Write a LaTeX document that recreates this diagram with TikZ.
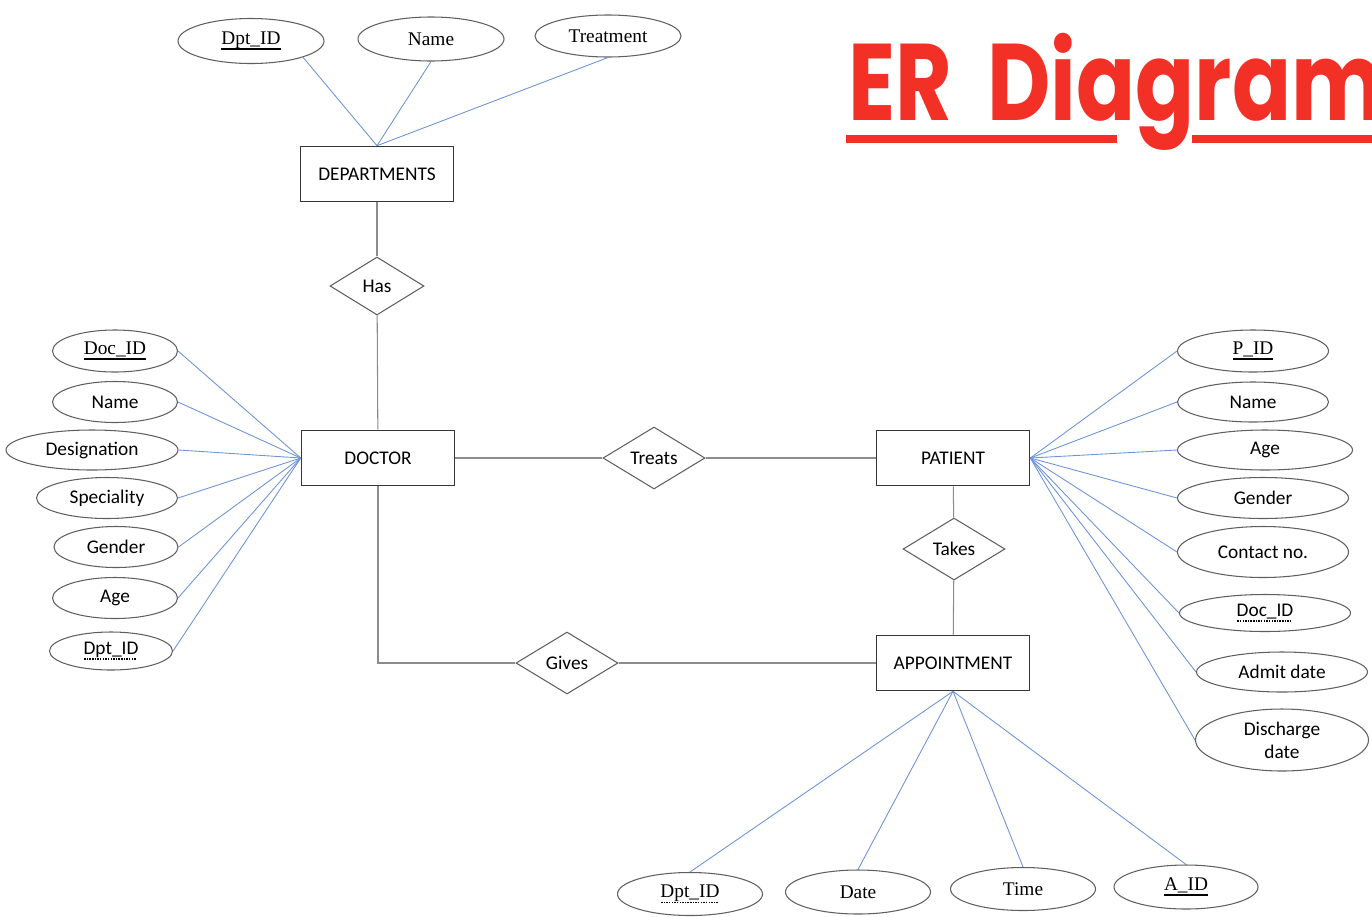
\documentclass[tikz,border=0pt]{standalone}
\usepackage{fontspec}
\setmainfont{Liberation Serif}
\setsansfont{Carlito}
\newfontfamily\titlefont{Poppins}[WordSpace=1.9]
\usepackage{tikz}
\usetikzlibrary{shapes,positioning}
\definecolor{erblue}{RGB}{110,148,215}
\definecolor{ergray}{RGB}{140,140,140}
\definecolor{erdark}{RGB}{55,55,55}
\definecolor{erred}{RGB}{242,48,38}
\tikzstyle{entity} = [draw=erdark, line width=0.9pt, minimum width=30.6mm, minimum height=11mm, font=\sffamily\fontsize{11}{13}\selectfont]
\tikzstyle{rel} = [diamond, draw=erdark!80, line width=0.6pt, aspect=1.6, minimum width=20.4mm, minimum height=12.4mm, inner sep=1pt, font=\sffamily\fontsize{11}{13}\selectfont]
\tikzstyle{attr} = [ellipse, draw=erdark!80, line width=0.6pt, minimum width=25mm, minimum height=8.2mm, inner sep=0pt, font=\fontsize{11}{13}\selectfont]
\tikzstyle{sattr} = [attr, font=\sffamily\fontsize{11}{13}\selectfont]
\tikzstyle{attrline} = [erblue, line width=0.5pt]
\tikzstyle{relline} = [ergray, line width=0.6pt]
\newsavebox\keybox
\newcommand{\pkey}[1]{\sbox\keybox{#1}\rlap{\usebox\keybox}\rule[-3pt]{\wd\keybox}{1.3pt}}
\newcommand{\fkey}[1]{\sbox\keybox{#1}\rlap{\usebox\keybox}\lower3pt\hbox to\wd\keybox{\leaders\hbox to 1.5pt{\hss\rule{0.8pt}{0.8pt}\hss}\hfil}}

\begin{document}
\begin{tikzpicture}[x=0.2mm, y=-0.2mm]
\useasboundingbox (0,0) rectangle (1372,916);

% Title
\node[anchor=base west, inner sep=0, text=erred, font=\titlefont\bfseries\fontsize{62}{62}\selectfont] (title) at (848,120) {\scalebox{0.8}[1]{ER Diagram}};
\fill[erred] (846,135) rectangle (1117,143);
\fill[erred] (1192,135) rectangle (1372,143);

% Entities and relationships
\node[entity] (dep) at (377,174) {DEPARTMENTS};
\node[rel, minimum width=18.8mm, minimum height=11.6mm] (has) at (377,286) {Has};
\node[entity] (doc) at (378,458) {DOCTOR};
\node[rel] (treats) at (654,458) {Treats};
\node[entity] (pat) at (953,458) {PATIENT};
\node[rel] (takes) at (954,549) {Takes};
\node[entity] (app) at (953,663) {APPOINTMENT};
\node[rel] (gives) at (567,663) {Gives};

\draw[relline] (dep) -- (has);
\draw[relline] (has) -- (doc);
\draw[relline] (doc) -- (treats);
\draw[relline] (treats) -- (pat);
\draw[relline] (pat) -- (takes);
\draw[relline] (takes) -- (app);
\draw[relline] (doc.south) |- (gives.west);
\draw[relline] (gives) -- (app);

% Departments attributes
\node[attr, minimum width=29.2mm, minimum height=9mm] (depid) at (251,41) {\pkey{Dpt\_ID}};
\node[attr, minimum width=29.2mm, minimum height=8.8mm] (depname) at (431,39) {Name};
\node[attr, minimum width=29.2mm, minimum height=8.4mm] (deptreat) at (608,36) {Treatment};
\draw[attrline] (depid.south east) -- (dep.north);
\draw[attrline] (depname.south) -- (dep.north);
\draw[attrline] (deptreat.south) -- (dep.north);

% Doctor attributes
\node[attr, minimum height=8.4mm] (docid) at (115,351) {\pkey{Doc\_ID}};
\node[sattr] (docname) at (115,402) {Name};
\node[sattr, minimum width=34.4mm, minimum height=8mm] (docdesig) at (92,450) {Designation};
\node[sattr, minimum width=28.2mm] (docspec) at (107,498) {Speciality};
\node[sattr, minimum width=24.8mm] (docgender) at (116,547) {Gender};
\node[sattr] (docage) at (115,598) {Age};
\node[sattr, minimum width=24.6mm, minimum height=7.6mm] (docdpt) at (111,651) {\fkey{Dpt\_ID}};
\foreach \a in {docid,docname,docdesig,docspec,docgender,docage,docdpt}
  \draw[attrline] (\a.east) -- (doc.west);

% Patient attributes
\node[attr, minimum width=30.2mm, minimum height=8.4mm] (pid) at (1253,351) {\pkey{P\_ID}};
\node[sattr, minimum width=30.2mm, minimum height=8mm] (pname) at (1253,402) {Name};
\node[sattr, minimum width=35mm, minimum height=8mm] (page) at (1265,450) {Age};
\node[sattr, minimum width=34.2mm] (pgender) at (1263,498) {Gender};
\node[sattr, minimum width=34.2mm, minimum height=10.2mm] (pcontact) at (1263,552) {Contact no.};
\node[sattr, minimum width=34.2mm, minimum height=7.4mm] (pdoc) at (1265,613) {\fkey{Doc\_ID}};
\node[sattr, minimum width=34.2mm, minimum height=8mm] (padmit) at (1282,672) {Admit date};
\node[sattr, minimum width=34.6mm, minimum height=12.4mm, align=center] (pdis) at (1282,740) {Discharge\\date};
\foreach \a in {pid,pname,page,pgender,pcontact,pdoc,padmit,pdis}
  \draw[attrline] (pat.east) -- (\a.west);

% Appointment attributes
\node[attr, minimum width=29mm, minimum height=8.6mm] (adpt) at (690,894) {\fkey{Dpt\_ID}};
\node[attr, minimum width=29mm, minimum height=8.8mm] (adate) at (858,892) {Date};
\node[attr, minimum width=29mm, minimum height=8.6mm] (atime) at (1023,889) {Time};
\node[attr, minimum width=28.8mm, minimum height=8.8mm] (aid) at (1186,887) {\pkey{A\_ID}};
\foreach \a in {adpt,adate,atime,aid}
  \draw[attrline] (app.south) -- (\a.north);
\end{tikzpicture}
\end{document}
